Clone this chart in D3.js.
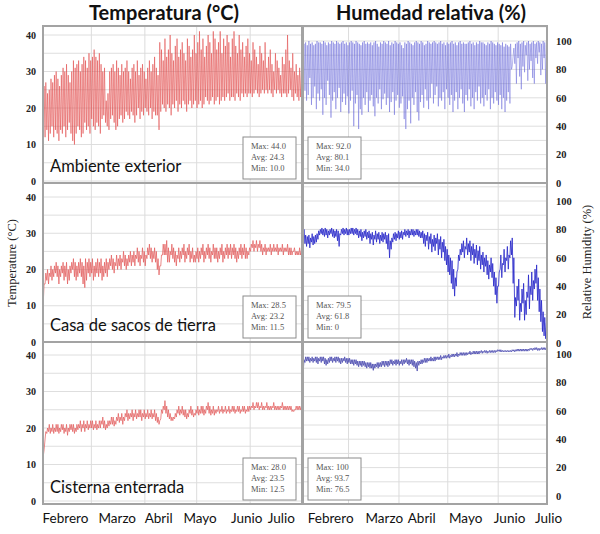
<!DOCTYPE html>
<html lang="es">
<head>
<meta charset="UTF-8">
<title>Temperatura y humedad</title>
<script src="https://cdn.jsdelivr.net/npm/d3@7"></script>
<style>
  body { margin: 0; background: #fff; }
</style>
</head>
<body>
<script>
// ---- datos (valores diarios, 1 feb - 30 jun) ----
const months = ['Febrero', 'Marzo', 'Abril', 'Mayo', 'Junio', 'Julio'];
const tempTicks = [0, 10, 20, 30, 40];
const humTicks = [0, 20, 40, 60, 80, 100];
const panelNames = ['Ambiente exterior', 'Casa de sacos de tierra', 'Cisterna enterrada'];

const extTmax = [26,27,24,25,28,27,29,30,28,26, 29,31,30,32,29,27,30,33,31,32, 33,30,32,34,33,31,35,33,34,36,
  34,33,35,32,30,31,22,24,30,31, 32,30,33,31,29,32,30,31,33,30, 28,31,32,30,33,29,31,32,30,28,
  31,33,30,32,34,31,29,38,36,33, 39,34,36,40,35,33,37,39,34,36, 38,35,33,39,37,34,36,40,35,38,
  41,36,39,34,37,40,38,35,41,39, 36,38,41,35,39,37,40,38,34,39, 41,37,35,40,36,38,34,37,39,35,
  33,38,36,34,32,37,35,33,38,31, 34,36,32,30,35,33,31,29,34,32, 36,40,33,31,35,30,32,29,31,30];
const extTmin = [9,12,14,11,13,15,12,14,13,11, 14,13,15,12,14,16,13,11,10,13, 15,14,12,13,16,14,15,13,17,15,
  14,16,15,13,17,18,16,15,14,17, 18,16,14,15,17,18,16,17,19,18, 17,19,18,16,18,20,17,19,18,20,
  19,18,20,17,19,18,18,14,19,21, 20,19,21,20,18,21,20,22,19,21, 20,22,21,19,21,22,20,21,22,20,
  21,22,20,21,23,22,21,22,23,21, 22,23,21,22,23,22,23,24,22,23, 23,22,24,23,22,24,23,24,23,24,
  24,23,24,25,24,23,24,25,24,25, 24,25,24,23,25,24,25,24,23,24, 24,23,24,25,23,22,24,23,22,23];

const extHmax = [98,99,97,100,98,99,97,98,100,99, 99,98,100,99,97,99,98,100,99,98, 100,99,98,99,100,98,99,97,99,100,
  99,98,100,99,98,97,99,100,98,99, 98,99,97,99,100,98,96,99,98,100, 99,98,100,97,99,98,100,99,98,99,
  97,95,99,98,100,99,98,97,99,100, 99,98,100,99,97,98,100,99,98,99, 100,99,98,99,100,98,99,97,99,98,
  99,100,98,99,97,99,100,98,99,98, 98,99,100,98,99,97,99,98,100,99, 99,98,97,99,98,100,99,98,97,99,
  98,97,99,96,98,97,96,98,82,95, 98,99,100,98,99,100,97,99,100,98, 99,100,98,99,100,99,98,100,99,97];
const extHmin = [78,65,58,62,74,55,60,68,52,63, 58,66,48,60,55,72,62,46,58,64, 52,60,67,50,57,63,55,61,49,58,
  65,40,56,62,38,52,48,60,55,64, 50,58,62,54,47,60,56,66,52,59, 63,55,60,50,57,64,48,58,62,53,
  56,61,45,38,52,58,42,60,55,64, 50,44,57,62,53,66,58,52,60,70, 56,62,68,54,60,58,64,52,66,60,
  55,62,50,58,64,52,60,66,56,50, 62,58,66,54,60,52,64,58,68,56, 60,54,62,58,66,52,60,56,64,58,
  55,62,52,60,50,58,64,56,80,90, 84,70,88,75,66,82,78,90,72,80, 86,74,70,88,84,92,76,80,88,70];

const casaTmax = [16,19,20,19,21,20,21,22,21,20, 21,22,21,22,20,21,22,23,22,21, 22,23,22,21,23,22,23,22,23,21,
  22,23,22,23,21,22,23,22,23,24, 23,22,24,23,24,23,25,24,23,24, 25,24,25,24,26,25,24,26,25,24,
  26,27,26,25,26,25,23,21,24,27, 27,28,26,25,27,26,25,24,26,25, 26,27,25,26,27,25,26,24,25,26,
  25,26,27,25,26,27,26,25,27,26, 26,25,26,27,25,26,27,26,27,26, 27,26,25,26,27,26,27,26,25,26,
  27,28,27,28,27,28,27,26,27,26, 26,27,26,27,26,27,26,26,27,26, 26,27,26,26,25,26,25,25,26,25];
const casaTmin = [11.5,16,17,16,18,17,18,19,18,16, 18,19,17,18,16,17,19,20,18,17, 18,19,18,16,15,17,19,18,19,17,
  18,19,18,19,17,18,19,18,20,21, 20,19,21,20,21,20,22,21,20,21, 22,21,22,21,23,22,21,23,22,21,
  23,24,23,22,23,22,20,18.5,21,24, 24,24,22,22,24,23,22,21,23,22, 23,24,22,23,24,22,23,22,22,23,
  22,23,24,22,23,24,23,22,24,23, 23,22,23,24,22,23,24,23,24,23, 24,23,22,23,24,23,24,23,23,24,
  25,26,25,26,25,26,25,24,25,24, 25,25,24,25,25,25,24,25,25,24, 25,25,24,24,24,25,24,24,24,24];

const casaHmax = [80,76,75,76,74,77,75,76,77,79, 80,81,80,81,80,79,80,81,80,79, 80,79,77,80,81,80,81,80,80,81,
  81,80,81,80,79,80,78,79,80,78, 79,77,78,76,79,77,78,76,78,77, 78,76,77,72,74,77,78,77,79,78,
  79,78,80,79,80,79,80,80,79,80, 80,79,78,79,77,76,78,75,77,73, 76,74,77,73,75,71,73,68,66,62,
  60,58,52,46,50,62,66,70,72,68, 74,70,72,68,70,66,69,65,68,62, 64,60,62,58,55,60,56,50,46,40,
  50,62,56,66,60,68,62,72,74,60, 32,40,45,28,38,42,30,36,48,40, 50,44,52,55,46,38,30,22,18,14];
const casaHmin = [74,70,68,70,67,71,69,70,71,73, 76,77,76,75,76,74,76,77,75,74, 75,72,68,76,77,76,77,76,76,77,
  77,76,77,76,74,75,72,74,75,73, 74,70,73,69,73,71,73,70,72,71, 73,70,66,60,66,71,73,72,74,73,
  74,73,76,75,76,74,76,76,75,76, 76,75,74,74,70,68,72,66,70,64, 68,65,70,62,66,60,64,58,55,50,
  48,42,38,33,40,52,58,62,64,60, 66,62,64,58,62,56,60,55,58,52, 55,50,54,48,45,50,46,40,34,28,
  40,52,46,55,50,58,52,60,62,42, 18,26,30,16,22,28,16,20,32,24, 34,30,38,42,30,22,15,8,5,3];

const cistTmax = [14,19,20,21,20,21,20,21,21,20, 21,21,20,21,20,21,21,21,20,21, 21,22,21,22,21,22,21,22,22,21,
  22,21,22,22,23,22,21,22,22,23, 23,22,23,24,23,24,23,24,25,24, 24,25,24,25,24,25,25,24,25,24,
  25,24,25,24,25,24,23,22,25,26, 27.5,26,25,24,23,23,24,25,26,25, 26,25,25,24,25,26,25,24,25,26,
  25,26,26,25,26,27,26,25,26,25, 25,26,25,26,25,26,25,26,25,26, 26,25,26,26,25,26,26,25,26,26,
  26,27,26,27,27,26,27,26,26,27, 26,26,26,27,26,26,26,26,27,26, 26,26,26,26,25,25,26,26,26,26];
const cistTmin = [12.5,17,18.5,19,18.5,19,18.5,19,19,18.5, 19,19.5,18.5,19,18,19,19.5,19,18.5,19, 19.5,20,19,20,19,20,19.5,20,20,19.5,
  20,19.5,20,20,21,20,19.5,20,20.5,21, 21,20.5,21,22,21.5,22,21,22,23,22, 22.5,23,22,23,22.5,23,23,22,23,22.5,
  23,22.5,23,22.5,23,22,21.5,21,22.5,24, 25,24,23,22.5,22,22,22.5,23,24,23.5, 24,23.5,23,22.5,23,24,23.5,23,23.5,24,
  23.5,24,24,23.5,24,25,24,23.5,24,23.5, 24,24.5,24,24.5,24,24.5,24,24.5,24,24.5, 24.5,24,24.5,24.5,24,24.5,24.5,24,24.5,24.5,
  25,25.5,25,25.5,25.5,25,25.5,25,25,25.5, 25,25,25,25.5,25,25,25,25,25.5,25, 25,25,25,25,24.5,24.5,25,25,25,25];

const cistHmax = [96,98,98,98,97,98,97,98,98,97, 98,98,98,97,96,97,98,98,97,98, 98,98,97,97,97,98,97,97,97,96,
  96,96,96,95,95,95,95,95,94,94, 94,94,93,93,93,94,94,94,95,95, 95,95,95,96,96,95,96,96,96,95,
  96,96,96,97,96,96,96,96,95,94, 95,95,96,96,97,97,97,97,98,97, 98,98,98,98,99,98,99,99,99,100,
  99,100,100,100,101,100,101,101,101,101, 101,101,102,101,102,102,102,102,102,102.5, 102,102.5,102.5,102,102.5,102.5,102.5,102.5,102.5,103,
  103,103,102.5,102.5,102.5,102.5,102.5,102.5,103,103, 103,103.5,103.5,103.5,103.5,103.5,103.5,103.5,103.5,104, 104,104,104.5,104.5,104,104,104.5,104.5,104.5,104.5];
const cistHmin = [89,94,95,95,94,95,94,95,94,93, 95,94,95,93,92,93,94,95,94,95, 94,95,94,93,94,95,94,93,94,93,
  93,92,93,92,91,92,91,92,91,90, 91,90,90,88.5,90,91,90,91,91,92, 91,92,91,92,93,92,93,92,93,92,
  93,92,93,94,93,92,93,92,91,90, 88,92,93,93,94,94,94,95,95,95, 95,95,96,96,96,96,97,97,97,97.5,
  97,98,98,98,98.5,98,99,99,99,99, 99,99.5,100,99.5,100,100,100,100,100,101, 100.5,101,101,100.5,101,101,101,101,101,101.5,
  102,101.5,101.5,101.5,101.5,101.5,101.5,101.5,101.5,102, 101.5,102,102,102,102,102,102,102,102,102.5, 103,102.5,103,103,102.5,102.5,103,103,103,103];

const tempStats = [['44.0', '24.3', '10.0'], ['28.5', '23.2', '11.5'], ['28.0', '23.5', '12.5']];
const humStats = [['92.0', '80.1', '34.0'], ['79.5', '61.8', '0'], ['100', '93.7', '76.5']];

// ---- maquetación ----
const W = 600, H = 534;
const SANS = 'Lato, "Noto Sans", sans-serif';
const SERIF = '"Liberation Serif", "DejaVu Serif", serif';
const start = new Date(2019, 1, 1), end = new Date(2019, 6, 1);
const cols = [{x0: 43, x1: 302}, {x0: 303, x1: 547}];
const rows = [{y0: 26, y1: 183}, {y0: 183, y1: 342}, {y0: 342, y1: 504}];
// píxeles de las etiquetas 0 y 40 (temp.) / 0 y 100 (humedad) en cada fila
const tempY = [[181, 35], [342, 197], [501, 355]];
const humY = [[183, 41], [343, 201], [496, 354]];
const labelDays = [[13, 43, 67, 91, 118, 138], [17, 50, 73, 100, 127, 151]];

const series = [
  [{max: extTmax, min: extTmin, color: '#e04848', w: 0.8, op: 0.7}, {max: extHmax, min: extHmin, color: '#5c5cd6', w: 0.8, op: 0.55}],
  [{max: casaTmax, min: casaTmin, color: '#e25a5a', w: 0.9, op: 0.8}, {max: casaHmax, min: casaHmin, color: '#2626c8', w: 0.9, op: 0.9}],
  [{max: cistTmax, min: cistTmin, color: '#e25a5a', w: 0.9, op: 0.8}, {max: cistHmax, min: cistHmin, color: '#4a4ab0', w: 0.9, op: 0.9}]
];

const svg = d3.select('body').append('svg').attr('width', W).attr('height', H);

rows.forEach((r, ri) => {
  cols.forEach((c, ci) => {
    const x = d3.scaleTime().domain([start, end]).range([c.x0, c.x1]);
    const y = ci === 0
      ? d3.scaleLinear().domain([0, 40]).range(tempY[ri])
      : d3.scaleLinear().domain([0, 100]).range(humY[ri]);
    const g = svg.append('g');
    const id = 'clip' + ri + ci;
    svg.append('clipPath').attr('id', id).append('rect')
      .attr('x', c.x0).attr('y', r.y0).attr('width', c.x1 - c.x0).attr('height', r.y1 - r.y0);

    // rejilla
    const step = ci === 0 ? 5 : 10;
    const lo = Math.ceil(y.invert(r.y1) / step) * step, hi = y.invert(r.y0);
    const hv = d3.range(lo, hi, step);
    g.selectAll('.hg').data(hv).join('line')
      .attr('x1', c.x0).attr('x2', c.x1).attr('y1', d => y(d)).attr('y2', d => y(d))
      .attr('stroke', '#dedede').attr('stroke-width', 1);
    g.selectAll('.vg').data(d3.timeMonth.range(d3.timeDay.offset(start, 1), end)).join('line')
      .attr('x1', d => x(d)).attr('x2', d => x(d)).attr('y1', r.y0).attr('y2', r.y1)
      .attr('stroke', '#dcdcdc').attr('stroke-width', 1);

    // serie en zigzag min/max diario
    const s = series[ri][ci];
    const pts = [];
    s.min.forEach((v, i) => {
      pts.push([d3.timeHour.offset(start, i * 24 + 5), v]);
      pts.push([d3.timeHour.offset(start, i * 24 + 15), s.max[i]]);
    });
    g.append('path')
      .attr('clip-path', 'url(#' + id + ')')
      .attr('d', d3.line().x(d => x(d[0])).y(d => y(d[1]))(pts))
      .attr('fill', 'none').attr('stroke', s.color)
      .attr('stroke-width', s.w).attr('stroke-opacity', s.op);

    // marco
    g.append('rect').attr('x', c.x0).attr('y', r.y0)
      .attr('width', c.x1 - c.x0).attr('height', r.y1 - r.y0)
      .attr('fill', 'none').attr('stroke', '#a3a3a3').attr('stroke-width', 2);

    // ejes
    const ax = ci === 0
      ? svg.append('g').attr('transform', `translate(${c.x0 - 2},0)`)
          .call(d3.axisLeft(y).tickValues(tempTicks).tickSize(0).tickPadding(5))
      : svg.append('g').attr('transform', `translate(${c.x1},0)`)
          .call(d3.axisRight(y).tickValues(humTicks).tickSize(0).tickPadding(9));
    ax.select('.domain').remove();
    ax.attr('font-family', SERIF).attr('font-size', ci === 0 ? 10 : 10.5);
    ax.selectAll('text').attr('font-weight', 'bold').attr('fill', '#222');

    // cuadro de estadísticas
    const st = ci === 0 ? tempStats[ri] : humStats[ri];
    const bw = 53, bh = 42;
    const bx = ci === 0 ? c.x1 - 59 : c.x0 + 5;
    const by = r.y1 - bh - 4;
    g.append('rect').attr('x', bx).attr('y', by).attr('width', bw).attr('height', bh)
      .attr('fill', '#fff').attr('stroke', '#8c8c8c').attr('stroke-width', 1);
    ['Max: ', 'Avg: ', 'Min: '].forEach((k, i) => {
      g.append('text').attr('font-family', SERIF).attr('x', bx + 8).attr('y', by + 12 + i * 11)
        .attr('font-size', 8.5).attr('fill', '#555').text(k + st[i]);
    });

    if (ci === 0) {
      g.append('text').attr('font-family', SANS).attr('x', c.x0 + 7).attr('y', r.y1 - 11)
        .attr('font-size', 16.5).attr('fill', '#111').text(panelNames[ri]);
    }

    if (ri === rows.length - 1) {
      svg.selectAll('.m' + ci).data(months).join('text')
        .attr('font-family', SANS)
        .attr('x', (d, i) => x(d3.timeDay.offset(start, labelDays[ci][i])))
        .attr('y', 523).attr('text-anchor', 'middle')
        .attr('font-size', 13.5).attr('fill', '#111').text(d => d);
    }
  });
});

// títulos
svg.append('text').attr('font-family', SANS).attr('x', 164).attr('y', 20).attr('text-anchor', 'middle')
  .attr('font-size', 20).attr('font-weight', 'bold').attr('fill', '#111').text('Temperatura (°C)');
svg.append('text').attr('font-family', SANS).attr('x', 431).attr('y', 20).attr('text-anchor', 'middle')
  .attr('font-size', 20).attr('font-weight', 'bold').attr('fill', '#111').text('Humedad relativa (%)');
svg.append('text').attr('font-family', SERIF).attr('transform', 'translate(16,263) rotate(-90)')
  .attr('text-anchor', 'middle').attr('font-size', 12.5).attr('fill', '#222').text('Temperature (°C)');
svg.append('text').attr('font-family', SERIF).attr('transform', 'translate(591,262) rotate(-90)')
  .attr('text-anchor', 'middle').attr('font-size', 12.5).attr('fill', '#222').text('Relative Humidity (%)');
</script>
</body>
</html>
